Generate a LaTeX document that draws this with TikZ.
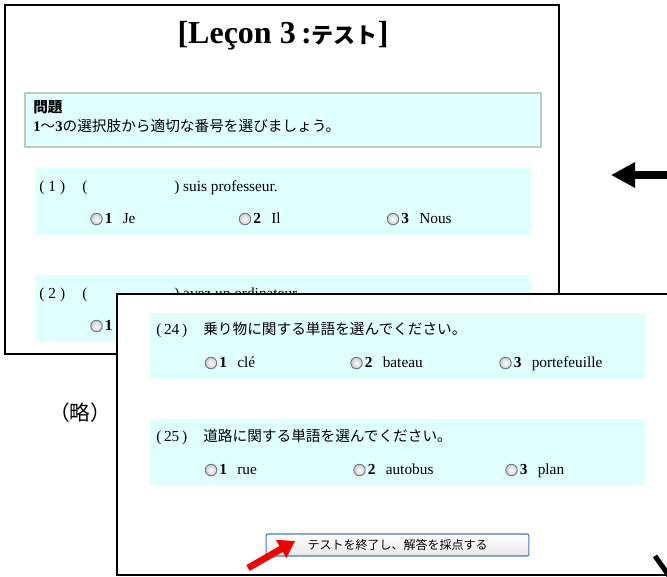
\documentclass[tikz,border=0pt]{standalone}
\usepackage{fontspec}
\setmainfont{Liberation Serif}
\newfontfamily\jp{Noto Sans CJK JP}
\usetikzlibrary{arrows.meta}
\definecolor{qcyan}{RGB}{224,255,255}
\definecolor{boxedge}{RGB}{192,202,192}
\definecolor{btnedge}{RGB}{70,120,180}
\definecolor{radioedge}{RGB}{110,120,130}
\definecolor{arrowred}{RGB}{240,0,0}
\newcommand{\radopt}[5]{%
  \node[radio] (#1r) at (#2,#3) {};
  \node[num] (#1n) at ([xshift=6pt]#1r.center) {#4};
  \node[lat] (#1w) at ([xshift=19.5pt]#1r.center) {#5};}
\begin{document}
\begin{tikzpicture}[x=0.75pt,y=-0.75pt,
  win/.style={draw=black,line width=1.5pt,fill=white},
  lat/.style={anchor=west,inner sep=0pt,text height=8pt,text depth=2pt,font=\fontsize{11.5}{13}\selectfont},
  jpt/.style={anchor=west,inner sep=0pt,text height=8.5pt,text depth=2pt,font=\jp\fontsize{11}{13}\selectfont},
  num/.style={anchor=west,inner sep=0pt,text height=8pt,text depth=2pt,font=\bfseries\fontsize{11.5}{13}\selectfont},
  radio/.style={circle,draw=radioedge,line width=0.7pt,inner color=white,outer color=gray!40,minimum size=8.6pt,inner sep=0pt},
]
\useasboundingbox (0,0) rectangle (667,576);
\fill[white] (0,0) rectangle (667,576);

% ---------- window 1 ----------
\draw[win] (5,5) rectangle (559,354);
\node[inner sep=0pt] (title) at (283,36)
  {\bfseries\fontsize{24}{26}\selectfont [Leçon 3\,:{\jp\fontsize{16.5}{18}\selectfont テスト}]};

\draw[boxedge,line width=1.5pt,fill=qcyan] (25,93) rectangle (541,147);
\node[jpt,font=\jp\bfseries\fontsize{11}{13}\selectfont] (mondai) at (33,108) {問題};
\node[jpt] (instr) at (33,127) {{\rmfamily\bfseries 1}〜{\rmfamily\bfseries 3}の選択肢から適切な番号を選びましょう。};

\fill[qcyan] (35,168) rectangle (531,235);
\node[lat] (q1a) at (39,187) {(\hspace{3pt}1\hspace{3pt})};
\node[lat] (q1b) at (82,187) {(};
\node[lat] (q1c) at (174,187) {) suis professeur.};
\radopt{qa}{96.5}{219}{1}{Je}
\radopt{qb}{245}{219}{2}{Il}
\radopt{qc}{393}{219}{3}{Nous}

\fill[qcyan] (35,275) rectangle (531,342);
\node[lat] (q2a) at (39,294) {(\hspace{3pt}2\hspace{3pt})};
\node[lat] (q2b) at (82,294) {(};
\node[lat] (q2c) at (174,294) {) avez un ordinateur.};
\radopt{qd}{96.5}{326}{1}{Tu}

% ---------- window 2 ----------
\draw[win] (117,294) rectangle (685,575);

\fill[qcyan] (150,313) rectangle (645,379);
\node[lat] (q24a) at (156,330) {(\hspace{2pt}24\hspace{2pt})};
\node[jpt] (q24b) at (203,330) {乗り物に関する単語を選んでください。};
\radopt{qe}{211}{363}{1}{clé}
\radopt{qf}{356.5}{363}{2}{bateau}
\radopt{qg}{505.5}{363}{3}{portefeuille}

\fill[qcyan] (150,419) rectangle (645,486);
\node[lat] (q25a) at (156,437) {(\hspace{2pt}25\hspace{2pt})};
\node[jpt] (q25b) at (203,437) {道路に関する単語を選んでください。};
\radopt{qh}{211}{470}{1}{rue}
\radopt{qi}{359.5}{470}{2}{autobus}
\radopt{qj}{511.5}{470}{3}{plan}

\node[draw=btnedge,line width=0.8pt,rounded corners=1.5pt,top color=white,bottom color=gray!18,
      minimum width=197pt,minimum height=16.5pt,inner sep=0pt,font=\jp\fontsize{9}{11}\selectfont]
  (btn) at (397.5,545) {テストを終了し、解答を採点する};

% ---------- outside ----------
\node[font=\jp\fontsize{15.5}{17}\selectfont,inner sep=0pt] (ryaku) at (80,413) {（略）};

\coordinate (redtail) at (248,568);
\coordinate (redtip) at (295,541);
\draw[arrowred,line width=5pt,-{Triangle[length=12pt,width=15pt]}] (redtail) -- (redtip);

\coordinate (bkstart) at (672,175);
\coordinate (bktip) at (611,175);
\draw[line width=6pt,-{Triangle[length=18pt,width=18pt]}] (bkstart) -- (bktip);

\coordinate (dgA) at (655,556);
\coordinate (dgB) at (672,580);
\draw[line width=3.75pt] (dgA) -- (dgB);
\end{tikzpicture}
\end{document}
